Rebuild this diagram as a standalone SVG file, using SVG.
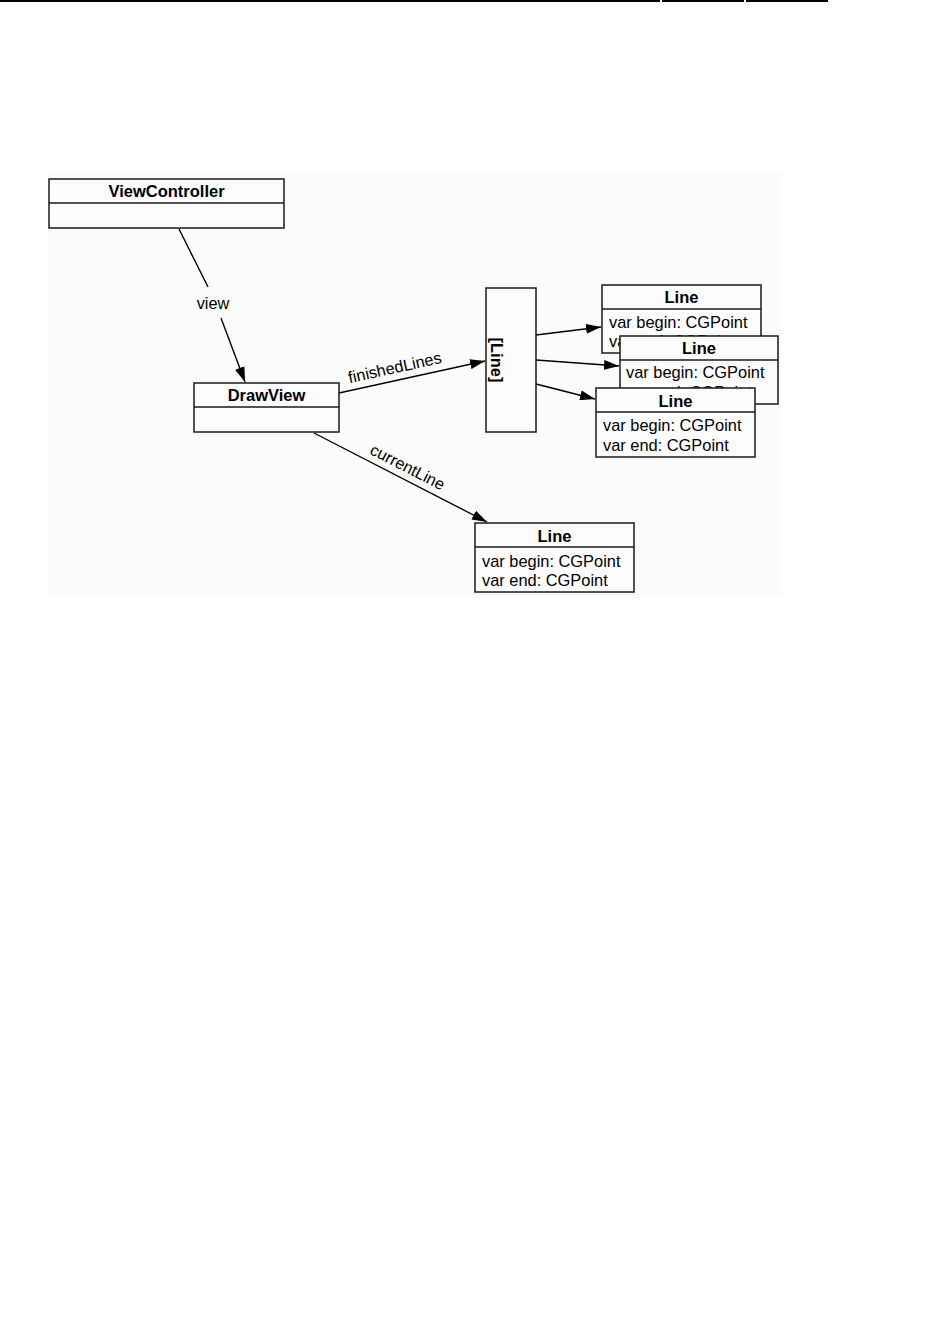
<svg xmlns="http://www.w3.org/2000/svg" width="935" height="1339" viewBox="0 0 935 1339">
<style>
.box{fill:#fcfcfc;stroke:#1a1a1a;stroke-width:1.5}
.sep{stroke:#1a1a1a;stroke-width:1.5}
.title{font-family:"Liberation Sans",Arial,sans-serif;font-size:16.5px;font-weight:bold;text-anchor:middle;fill:#000}
.attr{font-family:"Liberation Sans",Arial,sans-serif;font-size:16.4px;fill:#000}
.lbl{font-family:"Liberation Sans",Arial,sans-serif;font-size:16.3px;fill:#000;text-anchor:middle}
.conn{stroke:#000;stroke-width:1.4;fill:none}
</style>
<defs>
<marker id="arr" viewBox="0 0 15 10" refX="15" refY="5" markerWidth="15" markerHeight="10" markerUnits="userSpaceOnUse" orient="auto">
<path d="M0,0 L15,5 L0,10 Z" fill="#000"/>
</marker>
</defs>
<rect width="935" height="1339" fill="#ffffff"/>
<g id="topline" stroke="#000" stroke-width="2.2">
<line x1="0" y1="1" x2="660" y2="1"/>
<line x1="662" y1="1" x2="744" y2="1"/>
<line x1="746" y1="1" x2="828" y2="1"/>
</g>
<rect x="47" y="172" width="734" height="424" fill="#fbfbfb"/>
<g id="connectors">
<line class="conn" x1="179" y1="229" x2="208" y2="287"/>
<line class="conn" x1="221" y1="318" x2="245" y2="382" marker-end="url(#arr)"/>
<line class="conn" x1="339" y1="393" x2="485" y2="361" marker-end="url(#arr)"/>
<line class="conn" x1="536" y1="335" x2="601" y2="327" marker-end="url(#arr)"/>
<line class="conn" x1="536" y1="360" x2="619" y2="366" marker-end="url(#arr)"/>
<line class="conn" x1="536" y1="384" x2="595" y2="399" marker-end="url(#arr)"/>
<line class="conn" x1="314" y1="433" x2="487" y2="522" marker-end="url(#arr)"/>
<text class="lbl" x="213" y="309">view</text>
<text class="lbl" transform="translate(396,373) rotate(-12.4)">finishedLines</text>
<text class="lbl" transform="translate(405,472) rotate(27.2)">currentLine</text>
</g>
<g id="viewcontroller">
<rect class="box" x="49" y="179" width="235" height="49"/>
<line class="sep" x1="49" y1="203" x2="284" y2="203"/>
<text class="title" x="166.5" y="197">ViewController</text>
</g>
<g id="drawview">
<rect class="box" x="194" y="383" width="145" height="49"/>
<line class="sep" x1="194" y1="407" x2="339" y2="407"/>
<text class="title" x="266.5" y="401">DrawView</text>
</g>
<g id="linearray">
<rect class="box" x="486" y="288" width="50" height="144"/>
<text class="title" transform="translate(497,360) rotate(90)" y="6" font-size="17">[Line]</text>
</g>
<g id="line1">
<rect class="box" x="602" y="285" width="159" height="68"/>
<line class="sep" x1="602" y1="309" x2="761" y2="309"/>
<text class="title" x="681.5" y="303">Line</text>
<text class="attr" x="609" y="328">var begin: CGPoint</text>
<text class="attr" x="609" y="347">var end: CGPoint</text>
</g>
<g id="line2">
<rect class="box" x="620" y="336" width="158" height="68"/>
<line class="sep" x1="620" y1="360" x2="778" y2="360"/>
<text class="title" x="699" y="354">Line</text>
<text class="attr" x="626" y="378">var begin: CGPoint</text>
<text class="attr" x="626" y="398">var end: CGPoint</text>
</g>
<g id="line3">
<rect class="box" x="596" y="388" width="159" height="69"/>
<line class="sep" x1="596" y1="412" x2="755" y2="412"/>
<text class="title" x="675.5" y="407">Line</text>
<text class="attr" x="603" y="431">var begin: CGPoint</text>
<text class="attr" x="603" y="451">var end: CGPoint</text>
</g>
<g id="line4">
<rect class="box" x="475" y="523" width="159" height="69"/>
<line class="sep" x1="475" y1="547" x2="634" y2="547"/>
<text class="title" x="554.5" y="542">Line</text>
<text class="attr" x="482" y="567">var begin: CGPoint</text>
<text class="attr" x="482" y="586">var end: CGPoint</text>
</g>
</svg>
